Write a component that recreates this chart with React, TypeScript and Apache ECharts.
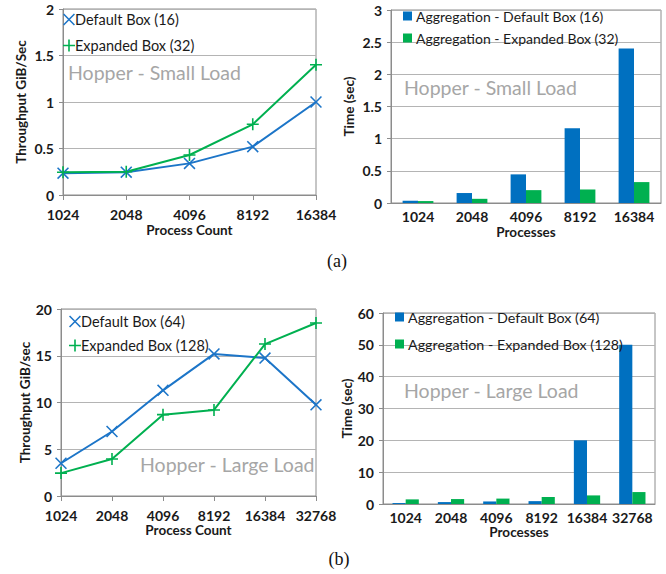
import React, { useEffect, useRef } from "react";
import * as echarts from "echarts";

const catsA = ["1024", "2048", "4096", "8192", "16384"];
const catsB = ["1024", "2048", "4096", "8192", "16384", "32768"];

const lineA_default = [0.235, 0.245, 0.34, 0.52, 1.0];
const lineA_expanded = [0.245, 0.25, 0.43, 0.76, 1.4];

const barA_default = [0.035, 0.155, 0.445, 1.16, 2.4];
const barA_expanded = [0.03, 0.065, 0.2, 0.21, 0.325];

const lineB_default = [3.5, 6.9, 11.3, 15.2, 14.75, 9.75];
const lineB_expanded = [2.45, 3.95, 8.7, 9.2, 16.25, 18.5];

const barB_default = [0.3, 0.6, 0.8, 0.9, 20, 50];
const barB_expanded = [1.45, 1.55, 1.7, 2.2, 2.7, 3.75];

const FONT = "Lato";
const BLUE_LINE = "#1c75c8";
const BLUE_BAR = "#0070C0";
const GREEN = "#00B050";
const AXIS = "#8c8c8c";
const GRIDC = "#b4b4b4";
const TXT = "#1a1a1a";

const CROSS =
  "path://M0,1.1L1.1,0L12,10.9L10.9,12Z M10.9,0L12,1.1L1.1,12L0,10.9Z";
const PLUS =
  "path://M5.2,0H6.8V5.2H12V6.8H6.8V12H5.2V6.8H0V5.2H5.2Z";

function xAxis(idx: number, data: string[], name: string, line: boolean, margin: number, nameGap: number) {
  return {
    type: "category",
    gridIndex: idx,
    data,
    boundaryGap: !line,
    name,
    nameLocation: "middle",
    nameGap,
    nameTextStyle: { fontFamily: FONT, fontWeight: "bold", fontSize: 13.5, color: TXT },
    axisLine: { show: true, lineStyle: { color: AXIS, width: 1 } },
    axisTick: { show: line, length: 5, lineStyle: { color: AXIS } },
    axisLabel: { fontFamily: FONT, fontWeight: "bold", fontSize: 14, color: TXT, margin, interval: 0 },
    splitLine: { show: false },
  };
}

function yAxis(idx: number, max: number, interval: number, name: string, nameGap: number) {
  return {
    type: "value",
    gridIndex: idx,
    min: 0,
    max,
    interval,
    name,
    nameLocation: "middle",
    nameGap,
    nameTextStyle: { fontFamily: FONT, fontWeight: "bold", fontSize: 13.5, color: TXT },
    axisLine: { show: true, lineStyle: { color: AXIS, width: 1 } },
    axisTick: { show: true, length: 4, lineStyle: { color: AXIS } },
    axisLabel: { fontFamily: FONT, fontWeight: "bold", fontSize: 14, color: TXT, margin: 9 },
    splitLine: { show: true, lineStyle: { color: GRIDC, width: 1 } },
  };
}

function lineSeries(name: string, data: number[], idx: number, color: string, symbol: string) {
  return {
    type: "line",
    name,
    data,
    xAxisIndex: idx,
    yAxisIndex: idx,
    symbol,
    symbolSize: 12,
    showAllSymbol: true,
    clip: false,
    lineStyle: { color, width: 2 },
    itemStyle: { color },
    emphasis: { disabled: true },
  };
}

function barSeries(name: string, data: number[], idx: number, color: string, gap: string) {
  return {
    type: "bar",
    name,
    data,
    xAxisIndex: idx,
    yAxisIndex: idx,
    barGap: "0%",
    barCategoryGap: gap,
    itemStyle: { color },
    emphasis: { disabled: true },
  };
}

function legend(
  names: string[],
  icons: string[],
  colors: string[],
  left: number,
  top: number,
  gap: number,
  size: number,
  fontSize: number,
  textPad: number
) {
  return {
    orient: "vertical",
    left,
    top,
    itemGap: gap,
    itemWidth: size,
    itemHeight: size,
    padding: 0,
    selectedMode: false,
    textStyle: { fontFamily: FONT, fontSize, color: TXT, padding: [0, 0, 0, textPad] },
    data: names.map((n, i) => ({ name: n, icon: icons[i], itemStyle: { color: colors[i] } })),
  };
}

function note(text: string, x: number, y: number) {
  return {
    type: "text",
    z: 10,
    style: {
      text,
      x,
      y,
      verticalAlign: "middle",
      align: "left",
      fill: "#a6a6a6",
      font: `19.5px ${FONT}`,
    },
  };
}

function caption(text: string, x: number, y: number) {
  return {
    type: "text",
    style: {
      text,
      x,
      y,
      verticalAlign: "middle",
      align: "center",
      fill: "#111",
      font: `18px "Liberation Serif"`,
    },
  };
}

export default function App() {
  const ref = useRef<HTMLDivElement>(null);
  useEffect(() => {
    if (!ref.current) return;
    const chart = echarts.init(ref.current, undefined, { renderer: "svg" });
    const gridBase = { show: true, borderColor: AXIS, borderWidth: 1, backgroundColor: "transparent", containLabel: false };
    chart.setOption({
      animation: false,
      backgroundColor: "#fff",
      grid: [
        { ...gridBase, left: 63, top: 9, width: 253, height: 186 },
        { ...gridBase, left: 391, top: 10, width: 270, height: 193 },
        { ...gridBase, left: 61, top: 309, width: 255, height: 187 },
        { ...gridBase, left: 383, top: 313, width: 272, height: 191 },
      ],
      xAxis: [
        xAxis(0, catsA, "Process Count", true, 12, 28),
        xAxis(1, catsA, "Processes", false, 6, 22),
        xAxis(2, catsB, "Process Count", true, 12, 27),
        xAxis(3, catsB, "Processes", false, 6, 21),
      ],
      yAxis: [
        yAxis(0, 2, 0.5, "Throughput GiB/Sec", 35),
        yAxis(1, 3, 0.5, "Time (sec)", 35),
        yAxis(2, 20, 5, "Throughput GiB/sec", 29),
        yAxis(3, 60, 10, "Time (sec)", 27),
      ],
      legend: [
        legend(["Default Box (16)", "Expanded Box (32)"], [CROSS, PLUS], [BLUE_LINE, GREEN], 63, 12, 11, 12, 14.5, -5),
        legend(["Aggregation - Default Box (16)", "Aggregation - Expanded Box (32)"], ["rect", "rect"], [BLUE_BAR, GREEN], 403, 9, 8, 9, 14, -1),
        legend(["Default Box (64)", "Expanded Box (128)"], [CROSS, PLUS], [BLUE_LINE, GREEN], 69, 314, 9, 12, 14.5, -5),
        legend(["Aggregation - Default Box (64)", "Aggregation - Expanded Box (128)"], ["rect", "rect"], [BLUE_BAR, GREEN], 395, 310, 13, 9, 14.3, -1),
      ],
      series: [
        lineSeries("Default Box (16)", lineA_default, 0, BLUE_LINE, CROSS),
        lineSeries("Expanded Box (32)", lineA_expanded, 0, GREEN, PLUS),
        barSeries("Aggregation - Default Box (16)", barA_default, 1, BLUE_BAR, "43%"),
        barSeries("Aggregation - Expanded Box (32)", barA_expanded, 1, GREEN, "43%"),
        lineSeries("Default Box (64)", lineB_default, 2, BLUE_LINE, CROSS),
        lineSeries("Expanded Box (128)", lineB_expanded, 2, GREEN, PLUS),
        barSeries("Aggregation - Default Box (64)", barB_default, 3, BLUE_BAR, "42%"),
        barSeries("Aggregation - Expanded Box (128)", barB_expanded, 3, GREEN, "42%"),
      ],
      graphic: [
        note("Hopper - Small Load", 68, 72),
        note("Hopper - Small Load", 404, 87),
        note("Hopper - Large Load", 140, 464),
        note("Hopper - Large Load", 404, 390),
        caption("(a)", 337, 261),
        caption("(b)", 339, 559),
      ],
    });
    return () => chart.dispose();
  }, []);
  return <div ref={ref} style={{ position: "absolute", left: 0, top: 0, width: 666, height: 574 }} />;
}
